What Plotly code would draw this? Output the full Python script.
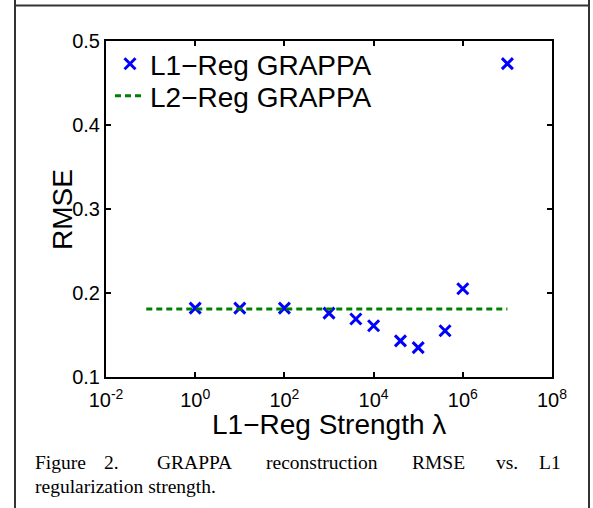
import plotly.graph_objects as go

# ---- data ----
lam = [1, 10, 100, 1e3, 4e3, 1e4, 4e4, 1e5, 4e5, 1e6, 1e7]
rmse_l1 = [0.182, 0.182, 0.182, 0.176, 0.169, 0.161, 0.143, 0.135, 0.155, 0.205, 0.473]
l2_x = [0.08, 1e7]
l2_y = [0.181, 0.181]
x_tickvals = [1e-2, 1, 1e2, 1e4, 1e6, 1e8]
x_ticktext = ["10<sup>-2</sup>", "10<sup>0</sup>", "10<sup>2</sup>", "10<sup>4</sup>", "10<sup>6</sup>", "10<sup>8</sup>"]
y_tickvals = [0.1, 0.2, 0.3, 0.4, 0.5]
y_ticktext = ["0.1", "0.2", "0.3", "0.4", "0.5"]
x_title = "L1\u2212Reg Strength \u03bb"
y_title = "RMSE"
caption_line1 = ["Figure", "2.", "GRAPPA", "reconstruction", "RMSE", "vs.", "L1"]
caption_line2 = "regularization strength."

W, H = 593, 508
def px(x):
    return x / W
def py(y):
    return 1 - y / H

fig = go.Figure()
fig.add_trace(go.Scatter(
    x=lam, y=rmse_l1, mode="markers", name="L1\u2212Reg GRAPPA", legend="legend",
    marker=dict(symbol="x-thin", size=11, color="#0000ff",
                line=dict(color="#0000ff", width=3)),
))
fig.add_trace(go.Scatter(
    x=l2_x, y=l2_y, mode="lines", name="L2\u2212Reg GRAPPA", legend="legend2",
    line=dict(color="#008000", width=3, dash="6px,4px"),
))

font_sans = "Liberation Sans, Arial, sans-serif"
leg_common = dict(xanchor="left", yanchor="middle",
                  bgcolor="rgba(255,255,255,0)", borderwidth=0,
                  font=dict(size=28, family=font_sans, color="black"),
                  itemwidth=30)
fig.update_layout(
    width=W, height=H,
    margin=dict(l=0, r=0, t=0, b=0, autoexpand=False),
    paper_bgcolor="white", plot_bgcolor="white",
    font=dict(family=font_sans, color="black"),
    showlegend=True,
    legend=dict(x=px(110), y=py(64), **leg_common),
    legend2=dict(x=px(110), y=py(96), **leg_common),
    xaxis=dict(type="log", range=[-2, 8], domain=[px(106), px(552)],
               tickvals=x_tickvals, ticktext=x_ticktext, automargin=False,
               ticks="inside", ticklen=5, tickwidth=1.5, tickcolor="black",
               showline=True, linecolor="black", linewidth=2, mirror="ticks",
               showgrid=False, zeroline=False, ticklabelstandoff=4,
               tickfont=dict(size=20, family=font_sans)),
    yaxis=dict(range=[0.1, 0.5], domain=[py(377), py(41)],
               tickvals=y_tickvals, ticktext=y_ticktext, automargin=False,
               ticks="inside", ticklen=5, tickwidth=1.5, tickcolor="black",
               showline=True, linecolor="black", linewidth=2, mirror="ticks",
               showgrid=False, zeroline=False,
               tickfont=dict(size=20, family=font_sans)),
)

# axis titles
fig.add_annotation(text=x_title, xref="paper", yref="paper", x=px(329), y=py(424),
                   xanchor="center", yanchor="middle", showarrow=False,
                   font=dict(size=28, family=font_sans, color="black"))
fig.add_annotation(text=y_title, xref="paper", yref="paper", x=px(63), y=py(210),
                   xanchor="center", yanchor="middle", showarrow=False, textangle=-90,
                   font=dict(size=28, family=font_sans, color="black"))

# outer frame
line_col = "#333333"
fig.add_shape(type="line", xref="paper", yref="paper", x0=px(15), x1=px(589), y0=py(5.5), y1=py(5.5),
              line=dict(color=line_col, width=2))
fig.add_shape(type="line", xref="paper", yref="paper", x0=px(15), x1=px(15), y0=0, y1=1,
              line=dict(color=line_col, width=2))
fig.add_shape(type="line", xref="paper", yref="paper", x0=px(589), x1=px(589), y0=0, y1=1,
              line=dict(color=line_col, width=2))

# caption (justified first line)
word_x = [33, 102, 155, 264, 410, 494, 537]
font_serif = "Liberation Serif, Times New Roman, serif"
for w, xx in zip(caption_line1, word_x):
    fig.add_annotation(text=w, xref="paper", yref="paper", x=px(xx), y=py(462),
                       xanchor="left", yanchor="middle", showarrow=False,
                       font=dict(size=19.5, family=font_serif, color="black"))
fig.add_annotation(text=caption_line2, xref="paper", yref="paper", x=px(33), y=py(486),
                   xanchor="left", yanchor="middle", showarrow=False,
                   font=dict(size=19.5, family=font_serif, color="black"))

fig.write_html("out.html", config={"displayModeBar": False},
               post_script="document.body.style.margin='0';document.body.style.overflow='hidden';")
